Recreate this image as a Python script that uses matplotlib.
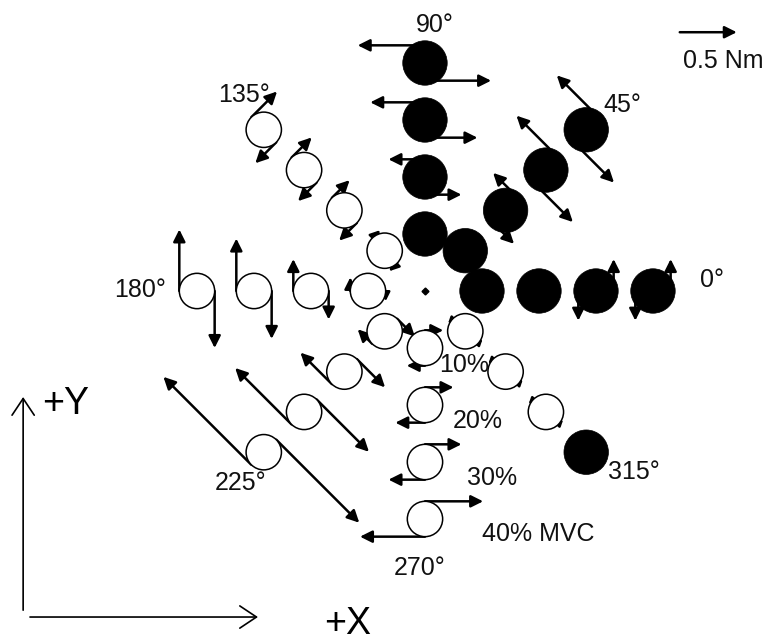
import numpy as np
import matplotlib.pyplot as plt
from matplotlib.patches import Circle, FancyArrowPatch

plt.rcParams['font.family'] = ['Liberation Sans', 'DejaVu Sans']

# Target directions (deg) and contraction levels (% MVC)
angles = [0, 45, 90, 135, 180, 225, 270, 315]
levels = [10, 20, 30, 40]

# Force-couple magnitudes (Nm): outer side / inner side of each target, rows = angle
outer_nm = [
    [0.05, 0.05, 0.28, 0.28],
    [0.05, 0.31, 0.52, 0.52],
    [0.05, 0.32, 0.48, 0.59],
    [0.10, 0.22, 0.25, 0.32],
    [0.12, 0.28, 0.46, 0.54],
    [0.18, 0.39, 0.70, 1.09],
    [0.16, 0.26, 0.32, 0.57],
    [0.06, 0.06, 0.06, 0.05],
]
inner_nm = [
    [0.05, 0.05, 0.26, 0.26],
    [0.05, 0.26, 0.49, 0.50],
    [0.05, 0.32, 0.46, 0.58],
    [0.10, 0.22, 0.23, 0.26],
    [0.09, 0.25, 0.42, 0.50],
    [0.22, 0.35, 0.65, 1.03],
    [0.16, 0.25, 0.32, 0.51],
    [0.06, 0.06, 0.06, 0.05],
]
# +1 counter-clockwise couple, -1 clockwise
rotation = [1, 1, 1, -1, -1, -1, -1, 1]
# filled marker = target of the other condition
filled = [
    [1, 1, 1, 1],
    [1, 1, 1, 1],
    [1, 1, 1, 1],
    [0, 0, 0, 0],
    [0, 0, 0, 0],
    [0, 0, 0, 0],
    [0, 0, 0, 0],
    [0, 0, 0, 1],
]

angle_labels = ['0°', '45°', '90°', '135°', '180°', '225°', '270°', '315°']
angle_label_pos = [(5.04, 0.19), (3.46, 3.26), (0.18, 4.67), (-3.18, 3.44),
                   (-5.0, 0.02), (-3.23, -3.37), (-0.09, -4.86), (3.67, -3.18)]
level_labels = ['10%', '20%', '30%', '40% MVC']
level_label_pos = [(0.68, -1.30), (0.93, -2.28), (1.18, -3.28), (1.98, -4.26)]

NM = 2.0          # plot units per Nm
R_OPEN = 0.31
R_FILL = 0.39

fig = plt.figure(figsize=(7.68, 6.44), dpi=100)
ax = fig.add_axes([0, 0, 1, 1])
ax.set_xlim(-7.456, 6.018)
ax.set_ylim(-6.193, 5.105)
ax.set_aspect('equal')
ax.axis('off')


def arrow(p0, p1, lw=1.8):
    length = np.hypot(p1[0] - p0[0], p1[1] - p0[1])
    ms = min(18, 72 * length)
    ax.add_patch(FancyArrowPatch(p0, p1, arrowstyle='-|>', mutation_scale=ms,
                                 lw=lw, color='k', shrinkA=0, shrinkB=0, zorder=2))


for i, ang in enumerate(angles):
    th = np.deg2rad(ang)
    u = np.array([np.cos(th), np.sin(th)])
    t = np.array([-u[1], u[0]]) * rotation[i]
    for j, lev in enumerate(levels):
        c = u * lev / 10.0
        for side, f in ((1, outer_nm[i][j]), (-1, inner_nm[i][j])):
            tail = c + side * R_OPEN * u
            arrow(tail, tail + side * t * f * NM)
        if filled[i][j]:
            ax.add_patch(Circle(c, R_FILL, fc='k', ec='k', lw=0.5, zorder=3))
        else:
            ax.add_patch(Circle(c, R_OPEN, fc='white', ec='k', lw=1.1, zorder=3))

ax.plot(0, 0, 'kD', ms=3.5, zorder=4)

for lab, (x, y) in zip(angle_labels, angle_label_pos):
    ax.text(x, y, lab, fontsize=18, ha='center', va='center', color='#111111')
for lab, (x, y) in zip(level_labels, level_label_pos):
    ax.text(x, y, lab, fontsize=18, ha='center', va='center', color='#111111')

# scale bar
arrow((4.47, 4.54), (4.47 + 0.5 * NM, 4.54))
ax.text(5.23, 4.04, '0.5 Nm', fontsize=18, ha='center', va='center', color='#111111')

# axis directions
for p0, p1 in (((-7.05, -5.60), (-7.05, -1.86)), ((-6.93, -5.72), (-2.93, -5.72))):
    ax.add_patch(FancyArrowPatch(p0, p1, arrowstyle='->,head_length=0.6,head_width=0.4',
                                 mutation_scale=20, lw=1.2, color='k',
                                 shrinkA=0, shrinkB=0))
ax.text(-6.30, -1.98, '+Y', fontsize=27, ha='center', va='center')
ax.text(-1.35, -5.84, '+X', fontsize=27, ha='center', va='center')

fig.savefig('out.png', dpi=100)
